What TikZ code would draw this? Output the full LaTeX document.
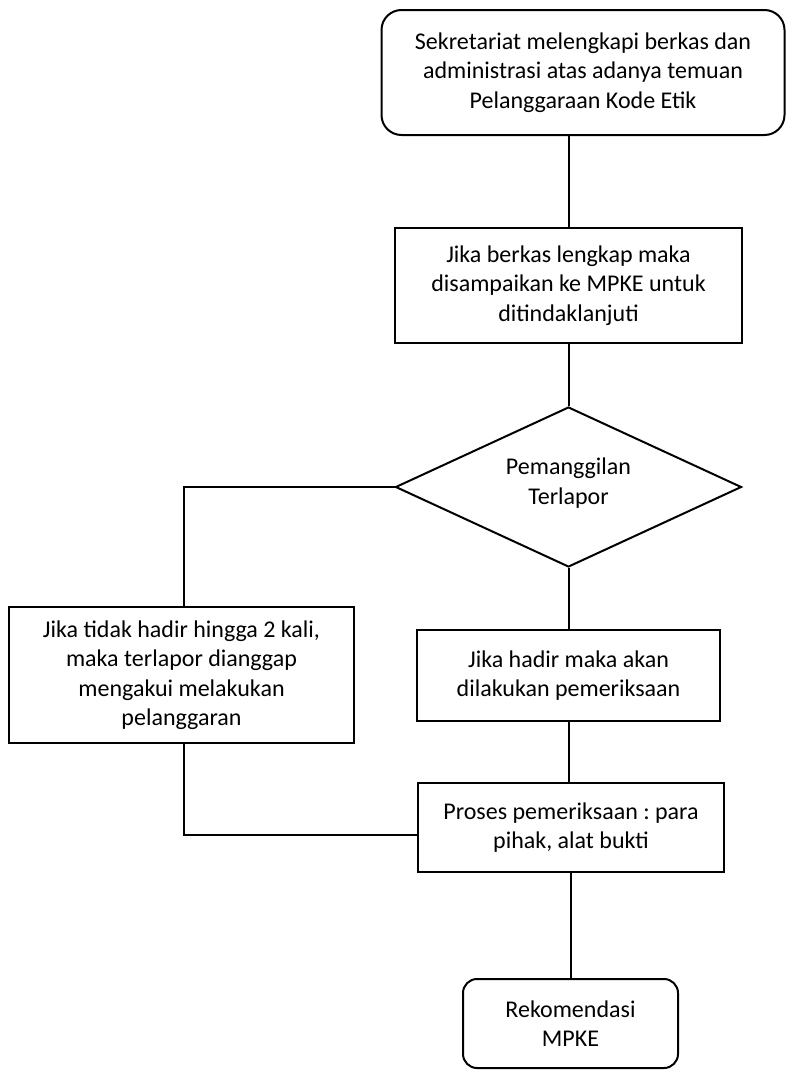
\documentclass[tikz,border=0pt]{standalone}
\usepackage{fontspec}
\setmainfont{Carlito}
\usetikzlibrary{shapes.geometric}
\frenchspacing
\begin{document}
\begin{tikzpicture}[x=1pt,y=-1pt,
  every node/.style={font=\fontsize{24}{29.5}\selectfont, align=center, inner sep=0pt, text=black},
  box/.style={draw, line width=2pt, rectangle},
  rbox/.style={draw, line width=2pt, rectangle, rounded corners=#1},
  dec/.style={draw, line width=2pt, diamond},
  conn/.style={line width=2pt, draw=black}]
\fill[white] (0,0) rectangle (787,1074);
\useasboundingbox (0,0) rectangle (787,1074);
\node[rbox=20pt, minimum width=403pt, minimum height=125pt] (top) at (583,72.5)
  {Sekretariat melengkapi berkas dan\\administrasi atas adanya temuan\\Pelanggaraan Kode Etik};
\node[box, minimum width=347pt, minimum height=115pt] (b2) at (568.5,285.5)
  {Jika berkas lengkap maka\\disampaikan ke MPKE untuk\\ditindaklanjuti};
\node[dec, minimum width=346pt, minimum height=160pt] (dia) at (568.5,487) {};
\node (diatext) at (568.5,483) {Pemanggilan\\Terlapor};
\node[box, minimum width=345pt, minimum height=136pt] (lb) at (181.5,675)
  {Jika tidak hadir hingga 2 kali,\\maka terlapor dianggap\\mengakui melakukan\\pelanggaran};
\node[box, minimum width=303pt, minimum height=91pt] (rb) at (568.5,675.5)
  {Jika hadir maka akan\\dilakukan pemeriksaan};
\node[box, minimum width=306pt, minimum height=89pt] (pr) at (571,827.5)
  {Proses pemeriksaan : para\\pihak, alat bukti};
\node[rbox=14pt, minimum width=215pt, minimum height=89pt] (rek) at (570.5,1023.5)
  {Rekomendasi\\MPKE};
\coordinate (lbx) at (184,743);
\draw[conn] (b2.north) -- (b2.north |- top.south);
\draw[conn] (dia.north) -- (dia.north |- b2.south);
\draw[conn] (dia.west) -| (lbx |- lb.north);
\draw[conn] (dia.south) -- (dia.south |- rb.north);
\draw[conn] (lbx |- lb.south) |- ([yshift=-7.5pt]pr.west);
\draw[conn] (rb.south) -- (rb.south |- pr.north);
\draw[conn] (pr.south) -- (pr.south |- rek.north);
\end{tikzpicture}
\end{document}
